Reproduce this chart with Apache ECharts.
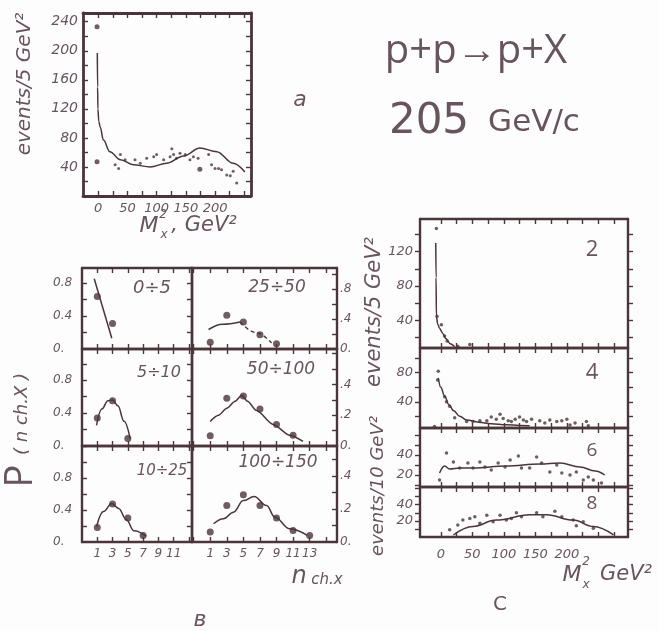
<!DOCTYPE html>
<html><head><meta charset="utf-8">
<script src="https://cdn.jsdelivr.net/npm/echarts@6/dist/echarts.min.js"></script>
<style>html,body{margin:0;padding:0;background:#fefdfd}#c{width:659px;height:631px}</style>
</head><body><div id="c"></div><script>
// ---------- DATA ----------
// panel a
const aDots = [[29,43],[35,38],[38,57],[46,50],[63,50],[72,45],[83,52],[95,54],[100,57],[112,50],[123,54],[126,65],[129,57],[134,52],[140,59],[149,57],[157,50],[163,54],[171,52],[189,57],[194,43],[200,38],[206,38],[211,36],[220,29],[226,28],[231,34],[237,18]];
const aBigDots = [[-2,233],[-2,47],[174,37]];
const aCurve = [[-1.5,197],[-1,150],[-0.5,120],[1,103],[3.4,95],[9,77],[20,61],[38,50],[60,43],[89,40],[117,45],[146,55],[174,66],[203,61],[231,45],[251,33]];
const aXTickLabels = [0,50,100,150,200];
const aYTickLabels = [40,80,120,160,200,240];
// panel b (multiplicity distributions)
const b1LDots = [[1,0.635],[3,0.31]];
const b1LLine = [[0.6,0.85],[2.9,0.13]];
const b1RDots = [[1,0.09],[3,0.45],[5,0.36],[7,0.19],[9,0.07]];
const b1RCurve = [[0.8,0.26],[2.5,0.33],[4.6,0.36]];
const b1RDash = [[4.6,0.36],[6.5,0.22],[8.4,0.08]];
const b2LDots = [[1,0.34],[3,0.55],[5,0.09]];
const b2LCurve = [[0.9,0.25],[1.6,0.45],[2.4,0.55],[3,0.56],[3.7,0.49],[4.5,0.3],[5.3,0.09]];
const b2RDots = [[1,0.066],[3,0.31],[5,0.325],[7,0.24],[9,0.14],[11,0.07]];
const b2RCurve = [[1,0.16],[2,0.2],[3,0.245],[4,0.29],[4.8,0.33],[5.5,0.29],[6.6,0.23],[8.6,0.14],[10.6,0.07],[12.2,0.03]];
const b3LDots = [[1,0.18],[3,0.475],[5,0.30],[7,0.08]];
const b3LCurve = [[0.9,0.19],[1.8,0.38],[2.9,0.48],[3.8,0.42],[4.8,0.28],[5.8,0.14],[7.4,0.07]];
const b3RDots = [[1,0.06],[3,0.22],[5,0.285],[7,0.22],[9,0.145],[11,0.07],[13,0.04]];
const b3RCurve = [[1.4,0.11],[2.6,0.14],[3.8,0.18],[5,0.25],[6.3,0.275],[7.8,0.22],[8.8,0.15],[10.6,0.08],[12.7,0.04]];
const bRowLabels = ['0÷5','25÷50','5÷10','50÷100','10÷25','100÷150'];
const bXTickLabelsLeft = [1,3,5,7,9,11];
const bXTickLabelsRight = [1,3,5,7,9,11,13];
const bLeftTickValues = [0,0.4,0.8];
const bLeftTickLabels = ['0.','0.4','0.8'];
const bRight1TickValues = [0,0.4,0.8];
const bRight1TickLabels = ['0.','.4','.8'];
const bRight23TickValues = [0,0.2,0.4];
const bRight23TickLabels = ['0.','.2','.4'];
// panel c
const c2Dots = [[-7,147],[-6,45],[1,35],[6,22],[10,16],[27,10],[46,12]];
const c2Curve = [[-8,130],[-7.5,90],[-7,45],[-5,36],[-2,31],[3,25],[8,19],[15,13],[22,9.5]];
const c4Dots = [[-10,6],[-4,82],[-5,70],[6,47],[9,40],[14,34],[22,18],[41,13],[51,13],[62,14],[73,14],[80,19],[88,16],[94,23],[99,17],[107,14],[112,13],[118,16],[125,19],[131,15],[136,13],[144,16],[157,14],[165,11],[173,15],[184,13],[192,14],[200,16],[205,8],[213,11],[231,13],[234,7]];
const c4Curve = [[-4,73],[0,60],[6,48],[13,36],[20,28],[30,20],[41,15],[60,12],[80,10],[104,8.5],[125,7.5],[141,7]];
const c6Dots = [[-2,15],[9,42],[20,33],[30,27],[43,32],[51,27],[62,33],[70,28],[80,25],[91,32],[102,28],[110,35],[123,39],[128,27],[141,27],[152,38],[160,32],[173,23],[184,30],[192,22],[205,20],[215,23],[226,15],[234,18],[242,15],[255,12]];
const c6Curve = [[-2,22],[6,29],[14,26],[30,27],[51,27],[104,29],[157,31],[189,32],[221,28],[245,24],[260,20]];
const c8Dots = [[14,9],[27,15],[35,21],[46,23],[54,25],[62,17],[73,27],[83,19],[94,27],[104,21],[112,23],[120,30],[128,25],[152,30],[162,25],[181,32],[192,25],[210,21],[215,14],[226,19],[242,11]];
const c8Curve = [[20,2.5],[51,13],[88,21],[141,27.5],[168,27.5],[210,21],[242,13],[274,2.5]];
const cXTickLabels = [0,50,100,150,200];
const cRowNumbers = ['2','4','6','8'];

// ---------- STYLE ----------
const INK = '#4a353b', TXT = '#67545f', FONT = 'DejaVu Sans';
const range = (a, b, s) => { const r = []; for (let v = a; v <= b + 1e-9; v += s) r.push(+v.toFixed(6)); return r; };
const grids = [], xAxes = [], yAxes = [], series = [];

function fmtFrom(vals, labs) {
  return v => { for (let i = 0; i < vals.length; i++) if (Math.abs(vals[i] - v) < 1e-6) return labs ? labs[i] : String(vals[i]); return ''; };
}
function lbl(vals, labs, margin, size, extra) {
  if (!vals) return { show: false };
  return Object.assign({ show: true, customValues: vals, formatter: fmtFrom(vals, labs), margin: margin,
    color: TXT, fontSize: size, fontStyle: 'italic', fontFamily: FONT }, extra || {});
}
function axis(pos, g, mn, mx, ticks, tickInside, label, lw) {
  return { gridIndex: g, type: 'value', position: pos, min: mn, max: mx,
    axisLine: { show: true, onZero: false, lineStyle: { color: INK, width: lw } },
    axisTick: { show: !!ticks, inside: tickInside, length: 5, customValues: ticks || [], lineStyle: { color: INK, width: 1.4 } },
    axisLabel: label, splitLine: { show: false } };
}
function box(rect, xr, yr, c) {
  const g = grids.length;
  grids.push({ left: rect[0], top: rect[1], width: rect[2], height: rect[3] });
  const lw = c.lw || 2;
  xAxes.push(axis('bottom', g, xr[0], xr[1], c.xt, true, c.xl || { show: false }, lw));
  xAxes.push(axis('top', g, xr[0], xr[1], c.xt, true, { show: false }, lw));
  yAxes.push(axis('left', g, yr[0], yr[1], c.ytL, c.yInL !== false, c.ylL || { show: false }, lw));
  yAxes.push(axis('right', g, yr[0], yr[1], c.ytR, c.yInR !== false, c.ylR || { show: false }, lw));
  return g;
}
function line(g, data, smooth, extra) {
  series.push(Object.assign({ type: 'line', xAxisIndex: 2 * g, yAxisIndex: 2 * g, data: data, symbol: 'none',
    smooth: smooth, smoothMonotone: 'x', lineStyle: { color: INK, width: 1.5 }, silent: true, z: 3 }, extra || {}));
}
function dots(g, data, size) {
  series.push({ type: 'scatter', xAxisIndex: 2 * g, yAxisIndex: 2 * g, data: data, symbolSize: size,
    itemStyle: { color: INK }, silent: true, z: 4 });
}

// ---------- PANEL a ----------
const gA = box([83, 13, 168, 183], [-26, 261.5], [0, 252], {
  lw: 2.8, xt: range(0, 250, 25), ytL: range(20, 240, 20), ytR: range(20, 240, 20),
  xl: lbl(aXTickLabels, null, 6, 13), ylL: lbl(aYTickLabels, null, 5, 14)
});
line(gA, aCurve, 0.35);
dots(gA, aDots, 3);
dots(gA, aBigDots, 5);

// ---------- PANEL b ----------
const colL = [82, 110], colR = [192, 145];
const rows = [[268, 81], [349, 97], [446, 96]];
const xrL = [-1, 13.4], xrR = [-1.2, 16.3];
const yrL = [[0, 0.98], [0, 1.18], [0, 1.2]];
const yrR = [[0, 1.08], [0, 0.63], [0, 0.58]];
const xtL = range(1, 13, 2), xtR = range(-1, 15, 2);
const bg = [];
for (let r = 0; r < 3; r++) {
  const last = r === 2;
  bg.push(box([colL[0], rows[r][0], colL[1], rows[r][1]], xrL, yrL[r], {
    lw: 2.4, xt: xtL, ytL: range(0.2, yrL[r][1], 0.2), ytR: range(0.2, yrL[r][1], 0.2),
    ylL: lbl(bLeftTickValues, bLeftTickLabels, 29, 12, { align: 'left' }),
    xl: last ? lbl(bXTickLabelsLeft, null, 6, 12) : null
  }));
  bg.push(box([colR[0], rows[r][0], colR[1], rows[r][1]], xrR, yrR[r], {
    lw: 2.4, xt: xtR, ytL: null, ytR: range(r === 0 ? 0.2 : 0.1, yrR[r][1], r === 0 ? 0.2 : 0.1),
    ylR: r === 0 ? lbl(bRight1TickValues, bRight1TickLabels, 3, 12) : lbl(bRight23TickValues, bRight23TickLabels, 3, 12),
    xl: last ? lbl(bXTickLabelsRight, null, 6, 12) : null
  }));
}
line(bg[0], b1LLine, false); dots(bg[0], b1LDots, 7);
line(bg[1], b1RCurve, 0.4); line(bg[1], b1RDash, 0.4, { lineStyle: { color: INK, width: 1.4, type: [4, 3] } }); dots(bg[1], b1RDots, 7);
line(bg[2], b2LCurve, 0.4); dots(bg[2], b2LDots, 7);
line(bg[3], b2RCurve, 0.25); dots(bg[3], b2RDots, 7);
line(bg[4], b3LCurve, 0.4); dots(bg[4], b3LDots, 7);
line(bg[5], b3RCurve, 0.4); dots(bg[5], b3RDots, 7);

// ---------- PANEL c ----------
const cX = [420, 208], cxr = [-33, 297];
const cRows = [[219, 129, [8, 158], range(20, 140, 20), [40, 80, 120]],
               [348, 80, [4, 114], range(20, 100, 20), [40, 80]],
               [428, 59, [8, 67], range(10, 60, 10), [20, 40]],
               [487, 50, [0, 62], range(10, 60, 10), [20, 40]]];
const cg = [];
cRows.forEach((r, i) => {
  cg.push(box([cX[0], r[0], cX[1], r[1]], cxr, r[2], {
    lw: 2.4, xt: range(0, 275, 25), ytL: r[3], ytR: r[3], yInL: false, yInR: false,
    ylL: lbl(r[4], null, 7, 13), xl: i === 3 ? lbl(cXTickLabels, null, 11, 13) : null
  }));
});
line(cg[0], c2Curve, 0.3); dots(cg[0], c2Dots, 3.5);
line(cg[1], c4Curve, 0.4); dots(cg[1], c4Dots, 3.5);
line(cg[2], c6Curve, 0.4); dots(cg[2], c6Dots, 3.5);
line(cg[3], c8Curve, 0.4); dots(cg[3], c8Dots, 3.5);

// ---------- TEXT ----------
function T(text, x, y, size, o) {
  o = o || {};
  return { type: 'text', x: x, y: y, rotation: o.rot || 0, silent: true, z: 10,
    style: { text: text, fill: TXT, fontSize: size, fontFamily: o.font || FONT, fontStyle: o.fs || 'italic',
      fontWeight: o.fw || 'normal', align: o.align || 'center', verticalAlign: 'middle' } };
}
const R = Math.PI / 2;
const PLAIN = { font: 'Open Sans', fs: 'normal', fw: 'normal' };
const texts = [
  T('events/5 GeV²', 25, 84, 20, { rot: R }),
  T('M', 149, 226, 22), T('2', 163, 215, 12), T('x', 164, 235, 12), T(', GeV²', 204, 226, 21),
  T('a', 300, 100, 22),
  T('p+p→p+X', 476, 52, 40, PLAIN),
  T('205', 429, 122, 42, { font: 'DejaVu Sans', fs: 'normal' }),
  T('GeV/c', 534, 123, 31, { font: 'DejaVu Sans', fs: 'normal' }),
  T(bRowLabels[0], 152, 288, 18), T(bRowLabels[1], 277, 288, 17),
  T(bRowLabels[2], 159, 373, 16), T(bRowLabels[3], 281, 370, 17),
  T(bRowLabels[4], 162, 471, 15), T(bRowLabels[5], 278, 463, 17),
  T('P', 21, 476, 38, { rot: R, fs: 'normal', font: 'Open Sans' }),
  T('( n ch.X )', 22, 414, 18, { rot: R }),
  T('n', 299, 577, 24), T('ch.x', 327, 580, 15),
  T('в', 200, 620, 22),
  T('events/10 GeV²', 378, 486, 18, { rot: R }),
  T('events/5 GeV²', 375, 312, 21, { rot: R }),
  T(cRowNumbers[0], 592, 250, 22, PLAIN),
  T(cRowNumbers[1], 592, 373, 22, PLAIN),
  T(cRowNumbers[2], 592, 451, 19, PLAIN),
  T(cRowNumbers[3], 592, 504, 19, PLAIN),
  T('M', 572, 575, 22), T('2', 586, 562, 12), T('x', 586, 585, 12), T('GeV²', 626, 575, 21),
  T('C', 500, 605, 20, { fs: 'normal' })
];

const chart = echarts.init(document.getElementById('c'), null, { renderer: 'canvas' });
chart.setOption({
  backgroundColor: '#fefdfd', animation: false,
  grid: grids, xAxis: xAxes, yAxis: yAxes, series: series, graphic: texts
});
</script></body></html>
